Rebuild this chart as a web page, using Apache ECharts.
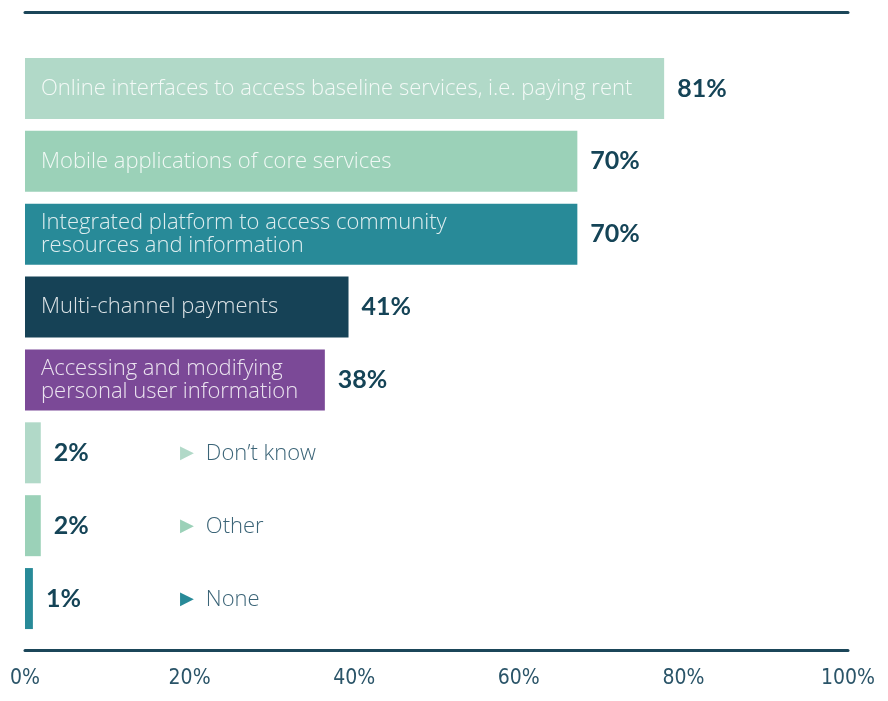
<!DOCTYPE html>
<html>
<head>
<meta charset="utf-8">
<script src="https://cdn.jsdelivr.net/npm/echarts@6/dist/echarts.min.js"></script>
<style>html,body{margin:0;padding:0;background:#fff}#c{width:888px;height:701px}</style>
</head>
<body>
<div id="c"></div>
<script>
const categories = [
  'Online interfaces to access baseline services, i.e. paying rent',
  'Mobile applications of core services',
  'Integrated platform to access community\nresources and information',
  'Multi-channel payments',
  'Accessing and modifying\npersonal user information',
  'Don’t know',
  'Other',
  'None'
];
const values = [81, 70, 70, 41, 38, 2, 2, 1];
const barColors = ['#b1d9c8', '#9bd1b8', '#288a98', '#164256', '#7b4997', '#b1d9c8', '#9bd1b8', '#288a98'];
const tickLabels = ['0%', '20%', '40%', '60%', '80%', '100%'];

const dark = '#154457';
const lineColor = '#1b4659';
const rich = {};
barColors.forEach((c, i) => { rich['t' + i] = { color: c, fontSize: 18, fontFamily: 'DejaVu Sans', padding: [0, 12, 0, 0] }; });
rich.nm = { color: '#3b6477', fontSize: 22, fontFamily: 'Open Sans', fontWeight: 300 };

const chart = echarts.init(document.getElementById('c'), null, { renderer: 'canvas' });
chart.setOption({
  animation: false,
  grid: { left: 25, right: 40, top: 52, bottom: 66 },
  xAxis: [
    { type: 'value', min: 0, max: 104.3, show: false, position: 'bottom' },
    {
      type: 'value', min: 0, max: 100, interval: 20, position: 'bottom', offset: 15,
      axisLine: { show: true, lineStyle: { color: lineColor, width: 3 } },
      axisTick: { show: false }, splitLine: { show: false },
      axisLabel: {
        margin: 18, color: '#2a5468', fontSize: 21,
        fontFamily: 'Liberation Sans Narrow, DejaVu Sans Condensed, sans-serif',
        formatter: (v) => tickLabels[Math.round(v / 20)]
      }
    },
    {
      type: 'value', min: 0, max: 100, position: 'top', offset: 40,
      axisLine: { show: true, lineStyle: { color: lineColor, width: 3 } },
      axisTick: { show: false }, splitLine: { show: false }, axisLabel: { show: false }
    }
  ],
  yAxis: [
    {
      type: 'category', data: categories, inverse: true, z: 5,
      axisLine: { show: false }, axisTick: { show: false },
      axisLabel: {
        inside: true, margin: 16, align: 'left', fontSize: 22, lineHeight: 23,
        padding: [5, 0, 0, 0],
        fontFamily: 'Open Sans', fontWeight: 300,
        color: 'rgba(255,255,255,0.85)',
        formatter: (v, i) => values[i] >= 10 ? v : ''
      }
    },
    {
      type: 'category', data: categories, inverse: true, position: 'left', z: 5,
      axisLine: { show: false }, axisTick: { show: false },
      axisLabel: {
        inside: true, margin: 155, align: 'left', rich: rich, padding: [2, 0, 0, 0],
        formatter: (v, i) => values[i] < 10 ? '{t' + i + '|▶}{nm|' + v + '}' : ''
      }
    }
  ],
  series: [{
    type: 'bar', xAxisIndex: 0, yAxisIndex: 0,
    barWidth: 61,
    data: values.map((v, i) => ({ value: v, itemStyle: { color: barColors[i] } })),
    label: {
      show: true, position: 'right', distance: 13,
      formatter: '{c}%', color: dark, fontSize: 25, fontWeight: 'bold', fontFamily: 'Lato'
    }
  }]
});
</script>
</body>
</html>
